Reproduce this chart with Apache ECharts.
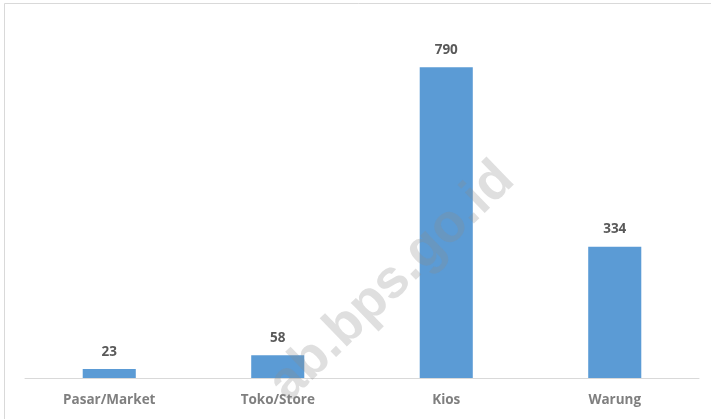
<!DOCTYPE html>
<html>
<head>
<meta charset="utf-8">
<script src="https://cdn.jsdelivr.net/npm/echarts@6/dist/echarts.min.js"></script>
<style>html,body{margin:0;padding:0;background:#fff}#c{width:711px;height:419px}</style>
</head>
<body>
<div id="c"></div>
<script>
const categories = ["Pasar/Market", "Toko/Store", "Kios", "Warung"];
const values = [23, 58, 790, 334];
const watermark = "ab.bps.go.id";

const chart = echarts.init(document.getElementById('c'), null, {renderer: 'canvas'});
chart.setOption({
  animation: false,
  backgroundColor: '#fff',
  grid: {left: 25, right: 12, top: 24, bottom: 41, containLabel: false},
  xAxis: {
    type: 'category',
    data: categories,
    axisLine: {show: true, lineStyle: {color: '#d9d9d9', width: 1}},
    axisTick: {show: false},
    axisLabel: {color: '#7f7f7f', fontFamily: 'Open Sans', fontWeight: 'bold', fontSize: 13.5, margin: 15}
  },
  yAxis: {
    type: 'value', min: 0, max: 900, show: false,
    splitLine: {show: false}
  },
  series: [{
    type: 'bar',
    data: values,
    barWidth: '31.5%',
    itemStyle: {color: '#5b9bd5'},
    label: {show: true, position: 'top', distance: 10, color: '#595959', fontFamily: 'Open Sans', fontWeight: 'bold', fontSize: 13.5}
  }],
  graphic: [
    {type: 'rect', shape: {x: 4.5, y: 3.5, width: 720, height: 430}, style: {fill: 'none', stroke: '#d9d9d9', lineWidth: 1}, z: -1, silent: true},
    {type: 'text', x: 392, y: 282, rotation: Math.PI * 0.245, z: 100, silent: true,
     style: {text: watermark, fontSize: 54, fontWeight: 'bold', fontFamily: 'Liberation Sans', fill: 'rgba(140,140,140,0.28)', align: 'center', verticalAlign: 'middle'}}
  ]
});
</script>
</body>
</html>
